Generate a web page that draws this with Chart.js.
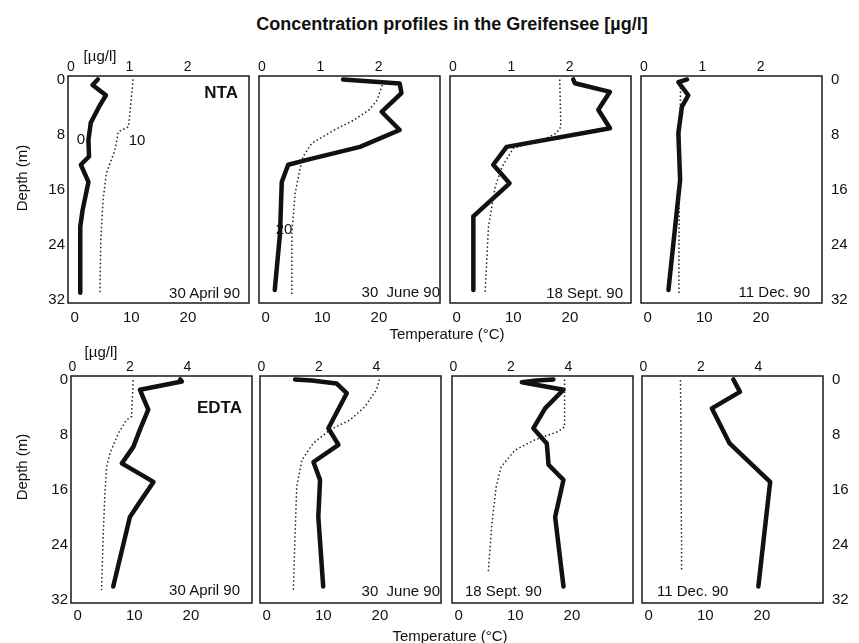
<!DOCTYPE html>
<html>
<head>
<meta charset="utf-8">
<script src="https://cdn.jsdelivr.net/npm/chart.js@4.4.1/dist/chart.umd.min.js"></script>
<style>
  html, body { margin: 0; padding: 0; background: #fff; }
  body { position: relative; width: 859px; height: 643px; overflow: hidden;
         font-family: "Liberation Sans", Arial, Helvetica, sans-serif; color: #111; }
  canvas { position: absolute; }
  .lbl { position: absolute; white-space: pre; line-height: 1; transform: translate(-50%, -50%); }
  .lbl.right { transform: translate(-100%, -50%); }
  .lbl.left { transform: translate(0, -50%); }
  .lbl.rot { transform: translate(-50%, -50%) rotate(-90deg); }
  .bold { font-weight: bold; }
</style>
</head>
<body>
<script>
// ---- axis ticks ----
const depthTicks = [0, 8, 16, 24, 32];
const tempTicks = [0, 10, 20];
const ntaTicks = [0, 1, 2];
const edtaTicks = [0, 2, 4];
const dateLabels = ['30 April 90', '30  June 90', '18 Sept. 90', '11 Dec. 90'];

// ---- NTA profiles: depth (m), concentration (µg/l), temperature (°C) ----
const ntaAprDepth = [0, 0.8, 2.3, 4, 6.3, 8.8, 11.2, 12.4, 14.9, 19, 21.4, 31];
const ntaAprConc  = [0.46, 0.37, 0.6, 0.48, 0.34, 0.3, 0.31, 0.17, 0.3, 0.2, 0.16, 0.16];
const ntaAprTDepth = [0, 4.4, 6.9, 7.6, 10.3, 13.6, 17.5, 23.3, 31.3];
const ntaAprTemp   = [10.3, 9.8, 9.5, 7.7, 7.1, 5.6, 5.0, 4.6, 4.45];

const ntaJunDepth = [0, 0.6, 2.0, 4.7, 7.35, 9.8, 11.7, 12.4, 14.9, 22.4, 30.6];
const ntaJunConc  = [1.39, 2.36, 2.39, 2.05, 2.36, 1.68, 0.77, 0.45, 0.34, 0.31, 0.22];
const ntaJunTDepth = [0.8, 3, 4.4, 5.9, 7.35, 9.3, 11.2, 13.2, 16.5, 22.4, 31.3];
const ntaJunTemp   = [20.6, 19.7, 18.3, 15.6, 12.1, 8.1, 6.6, 6.0, 5.2, 4.6, 4.6];

const ntaSepDepth = [0, 0.56, 1.8, 4.4, 7.1, 9.8, 12.4, 15.1, 17.5, 19.9, 30.6];
const ntaSepConc  = [2.06, 2.09, 2.69, 2.49, 2.69, 0.92, 0.69, 0.97, 0.66, 0.35, 0.35];
const ntaSepTDepth = [0, 6.9, 7.8, 8.8, 10, 12.7, 15.6, 21.4, 31.1];
const ntaSepTemp   = [18.2, 18.4, 17.6, 15.3, 10.0, 8.0, 6.8, 5.6, 5.0];

const ntaDecDepth = [0, 0.4, 2.3, 4, 7.8, 14.6, 30.6];
const ntaDecConc  = [0.74, 0.59, 0.76, 0.65, 0.59, 0.62, 0.42];
const ntaDecTDepth = [0, 8, 16, 24, 31.1];
const ntaDecTemp   = [5.8, 5.7, 5.6, 5.5, 5.5];

// ---- EDTA profiles ----
const edtaAprDepth = [0, 0.3, 1.5, 2.7, 4.4, 7.3, 9.8, 12.2, 14.9, 17.8, 20, 30.1];
const edtaAprConc  = [3.75, 3.81, 2.35, 2.47, 2.64, 2.35, 2.12, 1.72, 2.82, 2.35, 2.0, 1.42];
const edtaAprTDepth = [0.1, 5.4, 5.9, 7.8, 10.7, 12.7, 16.5, 22.4, 30.6];
const edtaAprTemp   = [9.8, 9.5, 8.6, 7.2, 5.7, 5.1, 4.8, 4.5, 4.2];

const edtaJunDepth = [0, 0.15, 0.6, 2.0, 7.1, 9.5, 12, 14.6, 20, 30.1];
const edtaJunConc  = [1.17, 1.75, 2.62, 2.97, 2.33, 2.68, 1.81, 2.04, 1.98, 2.15];
const edtaJunTDepth = [0, 1.5, 4, 5.9, 7.3, 9.3, 11.7, 15.6, 22.4, 30.6];
const edtaJunTemp   = [19.9, 19.4, 17.3, 14.7, 11.2, 8.2, 6.2, 5.3, 5.0, 4.7];

const edtaSepDepth = [0, 0.15, 0.4, 1.5, 4.2, 7.1, 9.3, 12.4, 14.6, 20, 30.1];
const edtaSepConc  = [3.48, 2.9, 2.38, 3.83, 3.19, 2.78, 3.25, 3.31, 3.83, 3.54, 3.83];
const edtaSepTDepth = [0, 6.9, 7.6, 8.8, 10.3, 12.7, 15.6, 21.4, 28.2];
const edtaSepTemp   = [18.7, 18.7, 17.5, 13.4, 9.9, 7.5, 6.6, 5.8, 5.2];

const edtaDecDepth = [0, 1.8, 4.2, 9.3, 14.9, 30.1];
const edtaDecConc  = [3.13, 3.36, 2.38, 3.0, 4.41, 4.0];
const edtaDecTDepth = [0.1, 8, 16, 24, 27.7];
const edtaDecTemp   = [5.6, 5.7, 5.7, 5.8, 5.8];

// ---- layout ----
const FRAME_W = 181, FRAME_H = 227, AXIS_BAND = 40, AXIS_W = 45, SIDE_PAD = 10;
const rows = [
  { top: 76,  lefts: [68, 259, 450, 641], concMax: 3.05, concTicks: ntaTicks,
    profiles: [
      [ntaAprDepth, ntaAprConc, ntaAprTDepth, ntaAprTemp],
      [ntaJunDepth, ntaJunConc, ntaJunTDepth, ntaJunTemp],
      [ntaSepDepth, ntaSepConc, ntaSepTDepth, ntaSepTemp],
      [ntaDecDepth, ntaDecConc, ntaDecTDepth, ntaDecTemp]
    ], bottomPad: 6 },
  { top: 376, lefts: [71, 260, 452, 642], concMax: 6.25, concTicks: edtaTicks,
    profiles: [
      [edtaAprDepth, edtaAprConc, edtaAprTDepth, edtaAprTemp],
      [edtaJunDepth, edtaJunConc, edtaJunTDepth, edtaJunTemp],
      [edtaSepDepth, edtaSepConc, edtaSepTDepth, edtaSepTemp],
      [edtaDecDepth, edtaDecConc, edtaDecTDepth, edtaDecTemp]
    ], bottomPad: 4 }
];

const FONT = '"Liberation Sans", Arial, Helvetica, sans-serif';

// panel border
const framePlugin = {
  id: 'frame',
  afterDatasetsDraw(chart) {
    const { ctx, chartArea: a } = chart;
    ctx.save();
    ctx.strokeStyle = '#1a1a1a';
    ctx.lineWidth = 1.5;
    ctx.strokeRect(a.left, a.top, a.right - a.left, a.bottom - a.top);
    ctx.restore();
  }
};

function points(ys, xs) {
  return ys.map((d, i) => ({ x: xs[i], y: d }));
}

function fixedTicks(values) {
  return scale => { scale.ticks = values.map(v => ({ value: v })); };
}

function makePanel(row, col) {
  const side = col === 0 ? 'left' : (col === 3 ? 'right' : 'none');
  const padL = side === 'left' ? AXIS_W : SIDE_PAD;
  const padR = side === 'right' ? AXIS_W : SIDE_PAD;
  const W = FRAME_W + padL + padR;
  const H = FRAME_H + 2 * AXIS_BAND;
  const cv = document.createElement('canvas');
  cv.width = W; cv.height = H;
  cv.style.width = W + 'px'; cv.style.height = H + 'px';
  cv.style.left = (row.lefts[col] - padL) + 'px';
  cv.style.top = (row.top - AXIS_BAND) + 'px';
  document.body.appendChild(cv);

  const [cDepth, conc, tDepth, temp] = row.profiles[col];
  const tickFont = { family: FONT, size: 15 };

  new Chart(cv, {
    type: 'line',
    data: {
      datasets: [
        { label: 'Temperature', data: points(tDepth, temp), xAxisID: 'xt', yAxisID: 'y',
          borderColor: '#222', borderWidth: 1.5, borderDash: [1.5, 2.5],
          pointRadius: 0, fill: false, tension: 0 },
        { label: 'Concentration', data: points(cDepth, conc), xAxisID: 'xc', yAxisID: 'y',
          borderColor: '#111', borderWidth: 4.5, borderJoinStyle: 'round', borderCapStyle: 'round',
          pointRadius: 0, fill: false, tension: 0 }
      ]
    },
    options: {
      responsive: false, animation: false, devicePixelRatio: 1, events: [],
      layout: { padding: { left: side === 'left' ? 0 : SIDE_PAD, right: side === 'right' ? 0 : SIDE_PAD, top: 0, bottom: 0 } },
      plugins: { legend: { display: false }, tooltip: { enabled: false } },
      scales: {
        xc: {
          type: 'linear', position: 'top', min: -0.05, max: row.concMax,
          grid: { display: false, drawTicks: false }, border: { display: false },
          ticks: { font: { family: FONT, size: 14 }, color: '#111', padding: 0, maxRotation: 0, autoSkip: false },
          afterBuildTicks: fixedTicks(row.concTicks),
          afterFit: s => { s.height = AXIS_BAND; s.paddingLeft = 0; s.paddingRight = 0; }
        },
        xt: {
          type: 'linear', position: 'bottom', min: -1.2, max: 30.8,
          grid: { display: false, drawTicks: false }, border: { display: false },
          ticks: { font: tickFont, color: '#111', padding: row.bottomPad, maxRotation: 0, autoSkip: false },
          afterBuildTicks: fixedTicks(tempTicks),
          afterFit: s => { s.height = AXIS_BAND; s.paddingLeft = 0; s.paddingRight = 0; }
        },
        y: {
          type: 'linear', reverse: true, min: -0.5, max: 32.5,
          display: side !== 'none', position: side === 'right' ? 'right' : 'left',
          grid: { display: false, drawTicks: false }, border: { display: false },
          ticks: { font: tickFont, color: '#111', padding: side === 'right' ? 9 : 3, autoSkip: false },
          afterBuildTicks: fixedTicks(depthTicks),
          afterFit: s => {
            if (side !== 'none') s.width = AXIS_W;
            s.paddingTop = 0; s.paddingBottom = 0;
          }
        }
      }
    },
    plugins: [framePlugin]
  });
}

rows.forEach(row => { for (let c = 0; c < 4; c++) makePanel(row, c); });

// ---- text ----
function text(str, x, y, cls, size) {
  const d = document.createElement('div');
  d.className = 'lbl ' + (cls || '');
  d.textContent = str;
  d.style.left = x + 'px';
  d.style.top = y + 'px';
  d.style.fontSize = size + 'px';
  document.body.appendChild(d);
}

text('Concentration profiles in the Greifensee [µg/l]', 452, 24, 'bold', 18);
text('[µg/l]', 100, 55, '', 15);
text('[µg/l]', 101, 351, '', 15);
text('Depth (m)', 21, 178, 'rot', 15);
text('Depth (m)', 21, 467, 'rot', 15);
text('Temperature (°C)', 447, 333, '', 15);
text('Temperature (°C)', 450, 635, '', 15);
text('NTA', 238, 92, 'bold right', 17);
text('EDTA', 242, 407, 'bold right', 17);

// date captions, top row right-aligned
text(dateLabels[0], 240, 292, 'right', 15);
text(dateLabels[1], 440, 291, 'right', 15);
text(dateLabels[2], 623, 292, 'right', 15);
text(dateLabels[3], 810, 291, 'right', 15);
// bottom row
text(dateLabels[0], 240, 589, 'right', 15);
text(dateLabels[1], 440, 590, 'right', 15);
text(dateLabels[2], 465, 590, 'left', 15);
text(dateLabels[3], 657, 590, 'left', 15);

// isotherm labels
text('0', 81, 138, '', 15);
text('10', 137, 139, '', 15);
text('20', 284, 228, '', 15);
</script>
</body>
</html>
